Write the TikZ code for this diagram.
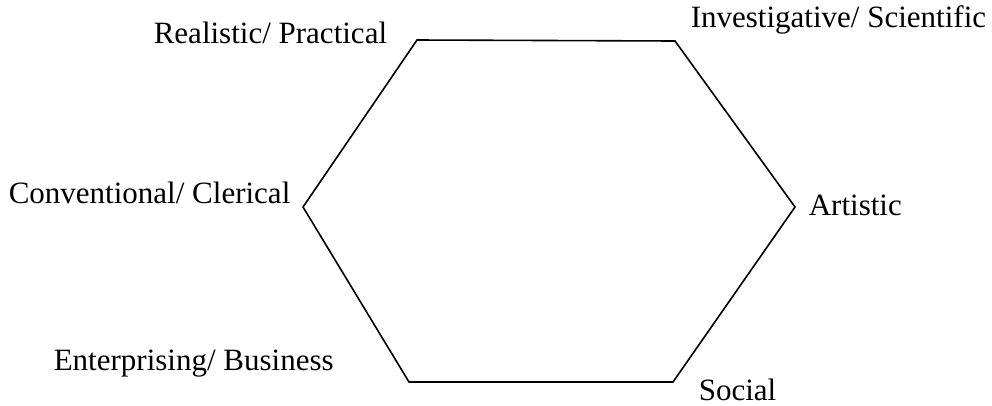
\documentclass[tikz,border=0pt]{standalone}
\usepackage{fontspec}
\setmainfont{Liberation Serif}
\begin{document}
\begin{tikzpicture}[x=1pt, y=-1pt, line width=1.6pt,
        lbl/.style={anchor=base west, inner sep=0pt, font=\fontsize{31}{37}\selectfont}]
    \useasboundingbox (0,0) rectangle (992,405);

    % Hexagon corners
    \coordinate (tl) at (417, 40);
    \coordinate (tr) at (675, 41);
    \coordinate (rt) at (795, 207);
    \coordinate (br) at (673, 382);
    \coordinate (bl) at (409, 382);
    \coordinate (lf) at (303, 207);
    \draw[line join=miter] (tl) -- (tr) -- (rt) -- (br) -- (bl) -- (lf) -- cycle;

    % Labels
    \node[lbl] (real) at (153, 43) {Realistic/ Practical};
    \node[lbl] (inv)  at (690, 27) {Investigative/ Scientific};
    \node[lbl] (conv) at (8, 203) {Conventional/ Clerical};
    \node[lbl] (art)  at (808, 215) {Artistic};
    \node[lbl] (ent)  at (53, 370) {Enterprising/ Business};
    \node[lbl] (soc)  at (698, 400) {Social};
\end{tikzpicture}
\end{document}
